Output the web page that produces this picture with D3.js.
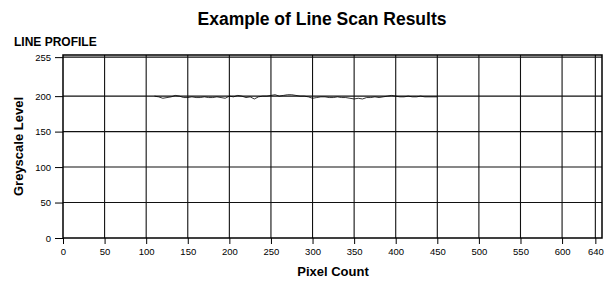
<!DOCTYPE html>
<html>
<head>
<meta charset="utf-8">
<script src="https://cdn.jsdelivr.net/npm/d3@7"></script>
<style>
  body { margin: 0; background: #fff; }
  text { font-family: "Liberation Sans", Arial, sans-serif; }
</style>
</head>
<body>
<div id="wrapper"></div>
<script>
// data
const pixelCount = [110,115,120,125,130,135,140,145,150,155,160,165,170,175,180,185,190,195,
  200,205,210,215,220,225,230,235,240,245,250,255,260,265,270,275,280,285,290,295,
  300,305,310,315,320,325,330,335,340,345,350,355,360,365,370,375,380,385,390,395,
  400,405,410,415,420,425,430,435,440,445,450];
const greyLevel = [200,199,197,198,199,201,200,198,198,199,198,198,199,198,198,199,198,197,
  200,199,201,200,198,199,196,199,200,200,201,202,200,201,202,202,201,200,200,199,
  197,198,199,199,198,198,199,198,198,197,196,197,196,198,198,199,198,199,200,201,
  200,199,199,200,199,199,200,199,199,199,199];
const xTicks = [0,50,100,150,200,250,300,350,400,450,500,550,600,640];
const yTicks = [0,50,100,150,200,255];

const width = 612, height = 282;
const plotL = 63, plotR = 602, plotT = 55, plotB = 238;

const svg = d3.select("#wrapper").append("svg")
  .attr("width", width).attr("height", height);

const x = d3.scaleLinear().domain([0, 648]).range([plotL, plotR]);
const y = d3.scaleLinear().domain([0, 258]).range([plotB, plotT]);

// gridlines
svg.append("g").selectAll("line.vg").data(xTicks.filter(d => d > 0)).enter()
  .append("line")
  .attr("x1", d => x(d)).attr("x2", d => x(d))
  .attr("y1", plotT).attr("y2", plotB)
  .attr("stroke", "#111").attr("stroke-width", 1.1);
svg.append("g").selectAll("line.hg").data(yTicks.filter(d => d > 0)).enter()
  .append("line")
  .attr("x1", plotL).attr("x2", plotR)
  .attr("y1", d => y(d)).attr("y2", d => y(d))
  .attr("stroke", "#111").attr("stroke-width", 1.1);

// frame
svg.append("rect")
  .attr("x", plotL).attr("y", plotT)
  .attr("width", plotR - plotL).attr("height", plotB - plotT)
  .attr("fill", "none").attr("stroke", "#000").attr("stroke-width", 1.5);

// axes
const xAxis = svg.append("g")
  .attr("transform", `translate(0,${plotB})`)
  .call(d3.axisBottom(x).tickValues(xTicks).tickSize(6).tickPadding(4));
const yAxis = svg.append("g")
  .attr("transform", `translate(${plotL},0)`)
  .call(d3.axisLeft(y).tickValues(yTicks).tickSize(8).tickPadding(4));
[xAxis, yAxis].forEach(g => {
  g.select(".domain").remove();
  g.selectAll(".tick line").attr("stroke", "#000");
  g.selectAll(".tick text")
    .attr("font-family", "'Liberation Sans', Arial, sans-serif")
    .attr("font-size", 9.5).attr("fill", "#000");
});

// profile line
const pts = pixelCount.map((d, i) => [d, greyLevel[i]]);
svg.append("path")
  .datum(pts)
  .attr("fill", "none")
  .attr("stroke", "#000")
  .attr("stroke-width", 0.8)
  .attr("d", d3.line().x(d => x(d[0])).y(d => y(d[1])));

// titles
svg.append("text")
  .attr("x", 322).attr("y", 25)
  .attr("text-anchor", "middle")
  .attr("font-size", 17.5).attr("font-weight", "bold")
  .text("Example of Line Scan Results");
svg.append("text")
  .attr("x", 14).attr("y", 46)
  .attr("font-size", 12).attr("font-weight", "bold")
  .text("LINE PROFILE");
svg.append("text")
  .attr("transform", `translate(23,${(plotT + plotB) / 2}) rotate(-90)`)
  .attr("text-anchor", "middle")
  .attr("font-size", 13).attr("font-weight", "bold")
  .text("Greyscale Level");
svg.append("text")
  .attr("x", 333).attr("y", 276)
  .attr("text-anchor", "middle")
  .attr("font-size", 13).attr("font-weight", "bold")
  .text("Pixel Count");
</script>
</body>
</html>
